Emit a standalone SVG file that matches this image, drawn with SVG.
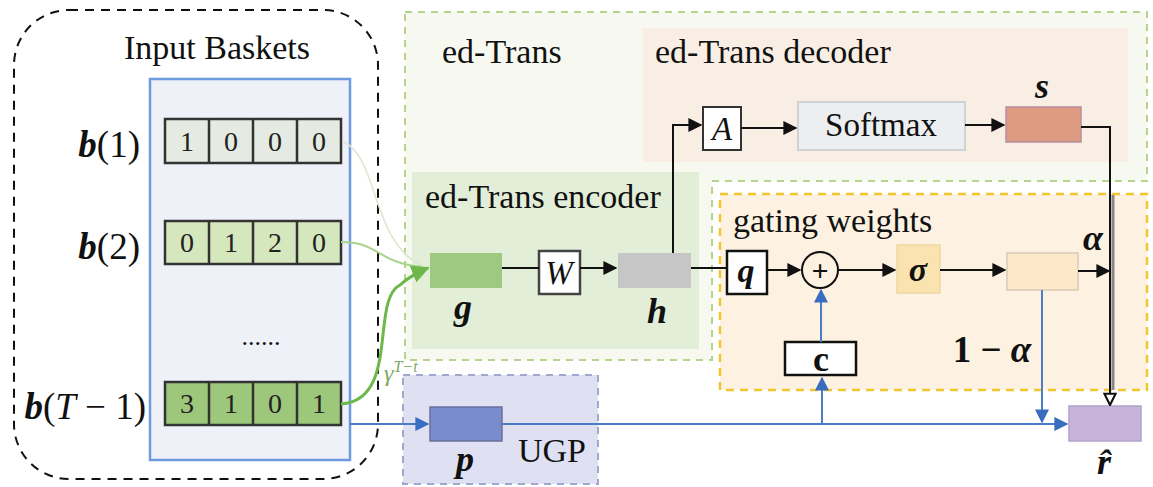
<svg xmlns="http://www.w3.org/2000/svg" width="1153" height="487" viewBox="0 0 1153 487">
<defs>
<style>
.t{font-family:"Liberation Serif","Times New Roman",serif;fill:#111}
.m{font-family:"Liberation Serif","Times New Roman",serif;font-weight:bold;font-style:italic;fill:#111}
.cell{stroke:#333;stroke-width:2.5}
.ln{stroke:#111;stroke-width:2;fill:none}
.bl{stroke:#4a7cc9;stroke-width:2;fill:none}
.num{font-family:"Liberation Serif","Times New Roman",serif;font-size:28px;text-anchor:middle;fill:#222}
</style>
<marker id="ah" viewBox="0 0 10 10" refX="9" refY="5" markerWidth="7" markerHeight="7" orient="auto"><path d="M0,0 L10,5 L0,10 z" fill="#111"/></marker>
<marker id="ab" viewBox="0 0 10 10" refX="9" refY="5" markerWidth="7" markerHeight="7" orient="auto"><path d="M0,0 L10,5 L0,10 z" fill="#3a6cc0"/></marker>
<marker id="ag" viewBox="0 0 10 10" refX="9" refY="5" markerWidth="6" markerHeight="6" orient="auto"><path d="M0,0 L10,5 L0,10 z" fill="#6cb84a"/></marker>
<marker id="ao" viewBox="0 0 10 10" refX="9" refY="5" markerWidth="7" markerHeight="7" orient="auto"><path d="M1,1 L9,5 L1,9 z" fill="#fff" stroke="#111" stroke-width="1.5"/></marker>
</defs>
<rect width="1153" height="487" fill="#fff"/>

<!-- regions -->
<g id="ed-trans">
<path d="M405,12 H1147 V181 H712 V360 H405 Z" fill="#f7f9f1" stroke="#b5d58e" stroke-width="2" stroke-dasharray="7,6"/>
<text class="t" x="442" y="63" font-size="34">ed-Trans</text>
</g>
<g id="decoder">
<rect x="643" y="28" width="485" height="134" fill="#f8eee4"/>
<text class="t" x="655" y="63" font-size="34">ed-Trans decoder</text>
</g>
<g id="encoder">
<rect x="412" y="172" width="287" height="177" fill="#e3eed8"/>
<text class="t" x="425" y="208" font-size="34">ed-Trans encoder</text>
</g>
<g id="gating">
<rect x="720" y="194" width="427" height="196" fill="#fdf2e1" stroke="#f3c52e" stroke-width="2.5" stroke-dasharray="8,6"/>
<text class="t" x="733" y="232" font-size="34">gating weights</text>
</g>
<g id="ugp">
<rect x="403" y="375" width="195" height="109" fill="#dfe1f3" stroke="#a3a6cf" stroke-width="2" stroke-dasharray="7,6"/>
<text class="t" x="518" y="462" font-size="34">UGP</text>
</g>

<!-- input baskets -->
<g id="input-baskets">
<rect x="14" y="10" width="364" height="469" rx="55" fill="none" stroke="#111" stroke-width="2" stroke-dasharray="9,7"/>
<text class="t" x="217" y="59" font-size="34" text-anchor="middle">Input Baskets</text>
<rect x="150" y="79" width="200" height="381" fill="#eff1f8" stroke="#6e9be0" stroke-width="2.5"/>
<text x="140" y="157" font-size="37" text-anchor="end"><tspan class="m">b</tspan><tspan class="t">(1)</tspan></text>
<text x="140" y="259" font-size="37" text-anchor="end"><tspan class="m">b</tspan><tspan class="t">(2)</tspan></text>
<text x="146" y="419" font-size="37" text-anchor="end"><tspan class="m">b</tspan><tspan class="t">(</tspan><tspan class="t" font-style="italic">T</tspan><tspan class="t"> − 1)</tspan></text>
<text class="t" x="261" y="345" font-size="26" text-anchor="middle">......</text>
</g>
<g id="b1">
<rect class="cell" x="165" y="119" width="176" height="44" fill="#e5ebe2"/>
<path class="cell" d="M209,119V163M253,119V163M297,119V163"/>
<text class="num" x="187" y="151">1</text><text class="num" x="231" y="151">0</text><text class="num" x="275" y="151">0</text><text class="num" x="319" y="151">0</text>
</g>
<g id="b2">
<rect class="cell" x="165" y="221" width="176" height="43" fill="#d5e7bd"/>
<path class="cell" d="M209,221V264M253,221V264M297,221V264"/>
<text class="num" x="187" y="252">0</text><text class="num" x="231" y="252">1</text><text class="num" x="275" y="252">2</text><text class="num" x="319" y="252">0</text>
</g>
<g id="bT">
<rect class="cell" x="165" y="382" width="176" height="43" fill="#9dc77b"/>
<path class="cell" d="M209,382V425M253,382V425M297,382V425"/>
<text class="num" x="187" y="413">3</text><text class="num" x="231" y="413">1</text><text class="num" x="275" y="413">0</text><text class="num" x="319" y="413">1</text>
</g>

<!-- nodes -->
<g id="g"><rect x="430" y="253" width="72" height="35" fill="#9dc980"/><text class="m" x="463" y="319" font-size="36" text-anchor="middle">g</text></g>
<g id="W"><rect x="539" y="251" width="41" height="43" fill="#fff" stroke="#444" stroke-width="2.5"/><text class="t" x="559" y="284" font-size="33" font-style="italic" text-anchor="middle">W</text></g>
<g id="h"><rect x="618" y="253" width="73" height="35" fill="#c6c6c6"/><text class="m" x="657" y="323" font-size="36" text-anchor="middle">h</text></g>
<g id="A"><rect x="703" y="107" width="38" height="43" fill="#fff" stroke="#333" stroke-width="2"/><text class="t" x="722" y="140" font-size="33" font-style="italic" text-anchor="middle">A</text></g>
<g id="softmax"><rect x="798" y="102" width="167" height="48" fill="#eceef0" stroke="#cfd2d5" stroke-width="2"/><text class="t" x="881" y="136" font-size="33" text-anchor="middle">Softmax</text></g>
<g id="s"><rect x="1006" y="107" width="75" height="35" fill="#dd9b82" stroke="#b98da4" stroke-width="1.5"/><text class="m" x="1042" y="98" font-size="36" text-anchor="middle">s</text></g>
<g id="q"><rect x="727" y="251" width="40" height="43" fill="#fff" stroke="#111" stroke-width="2.5"/><text class="m" x="746" y="282" font-size="34" text-anchor="middle">q</text></g>
<g id="plus"><circle cx="820" cy="270" r="18" fill="none" stroke="#111" stroke-width="2"/><text class="t" x="820" y="281" font-size="30" font-weight="bold" text-anchor="middle">+</text></g>
<g id="sigma"><rect x="897" y="245" width="43" height="48" fill="#fbe3b0" stroke="#efd7a5" stroke-width="1.5"/><text class="m" x="918" y="281" font-size="34" text-anchor="middle">σ</text></g>
<g id="alpha-box"><rect x="1007" y="253" width="71" height="37" fill="#fde9c9" stroke="#d8cbb6" stroke-width="1.5"/><text class="m" x="1093" y="250" font-size="36" text-anchor="middle">α</text></g>
<g id="c"><rect x="785" y="342" width="71" height="33" fill="#fff" stroke="#111" stroke-width="2.5"/><text class="t" x="821" y="371" font-size="36" font-weight="bold" text-anchor="middle">c</text></g>
<text x="992" y="362" font-size="37" text-anchor="middle"><tspan class="t" font-weight="bold">1 − </tspan><tspan class="m">α</tspan></text>
<g id="p"><rect x="430" y="407" width="72" height="34" fill="#7b8ccc" stroke="#6a6f9a" stroke-width="1.5"/><text class="m" x="465" y="471" font-size="36" text-anchor="middle">p</text></g>
<g id="rhat"><rect x="1069" y="406" width="72" height="35" fill="#c6b4da" stroke="#b2a3c9" stroke-width="1.5"/><text class="m" x="1104" y="474" font-size="36" text-anchor="middle">r̂</text></g>

<!-- connectors -->
<g id="connectors">
<path d="M343,141 C380,160 370,240 422,266" stroke="#dbe7d0" stroke-width="1.5" fill="none"/>
<path d="M341,242 C380,242 375,262 422,267" stroke="#a9d38e" stroke-width="2" fill="none"/>
<path d="M341,404 C400,400 370,300 400,285 C410,276 418,272 428,268" stroke="#6cb84a" stroke-width="3" fill="none" marker-end="url(#ag)"/>
<text x="384" y="381" font-family="Liberation Serif,serif" font-style="italic" font-size="24" fill="#7aa860">γ<tspan font-size="16" dy="-9">T−t</tspan></text>
<path class="ln" d="M502,268 H539"/>
<path class="ln" d="M580,268 H616" marker-end="url(#ah)"/>
<path class="ln" d="M673,253 V125 H701" marker-end="url(#ah)"/>
<path class="ln" d="M741,128 H796" marker-end="url(#ah)"/>
<path class="ln" d="M965,125 H1004" marker-end="url(#ah)"/>
<path class="ln" d="M691,268 H727"/>
<path class="ln" d="M767,270 H800" marker-end="url(#ah)"/>
<path class="ln" d="M838,270 H895" marker-end="url(#ah)"/>
<path class="ln" d="M940,270 H1005" marker-end="url(#ah)"/>
<path d="M1113,195 V390" stroke="#888" stroke-width="3" fill="none"/>
<path class="ln" d="M1078,271 H1109" marker-end="url(#ah)" stroke-width="2.5"/>
<path class="ln" d="M1081,127 H1110 V405" marker-end="url(#ao)"/>
<path class="bl" d="M821,342 V290" marker-end="url(#ab)"/>
<path class="bl" d="M822,424 V378" marker-end="url(#ab)"/>
<path class="bl" d="M1042,290 V422" marker-end="url(#ab)"/>
<path class="bl" d="M350,424 H428" marker-end="url(#ab)"/>
<path class="bl" d="M502,424 H1067" marker-end="url(#ab)"/>
</g>
</svg>
